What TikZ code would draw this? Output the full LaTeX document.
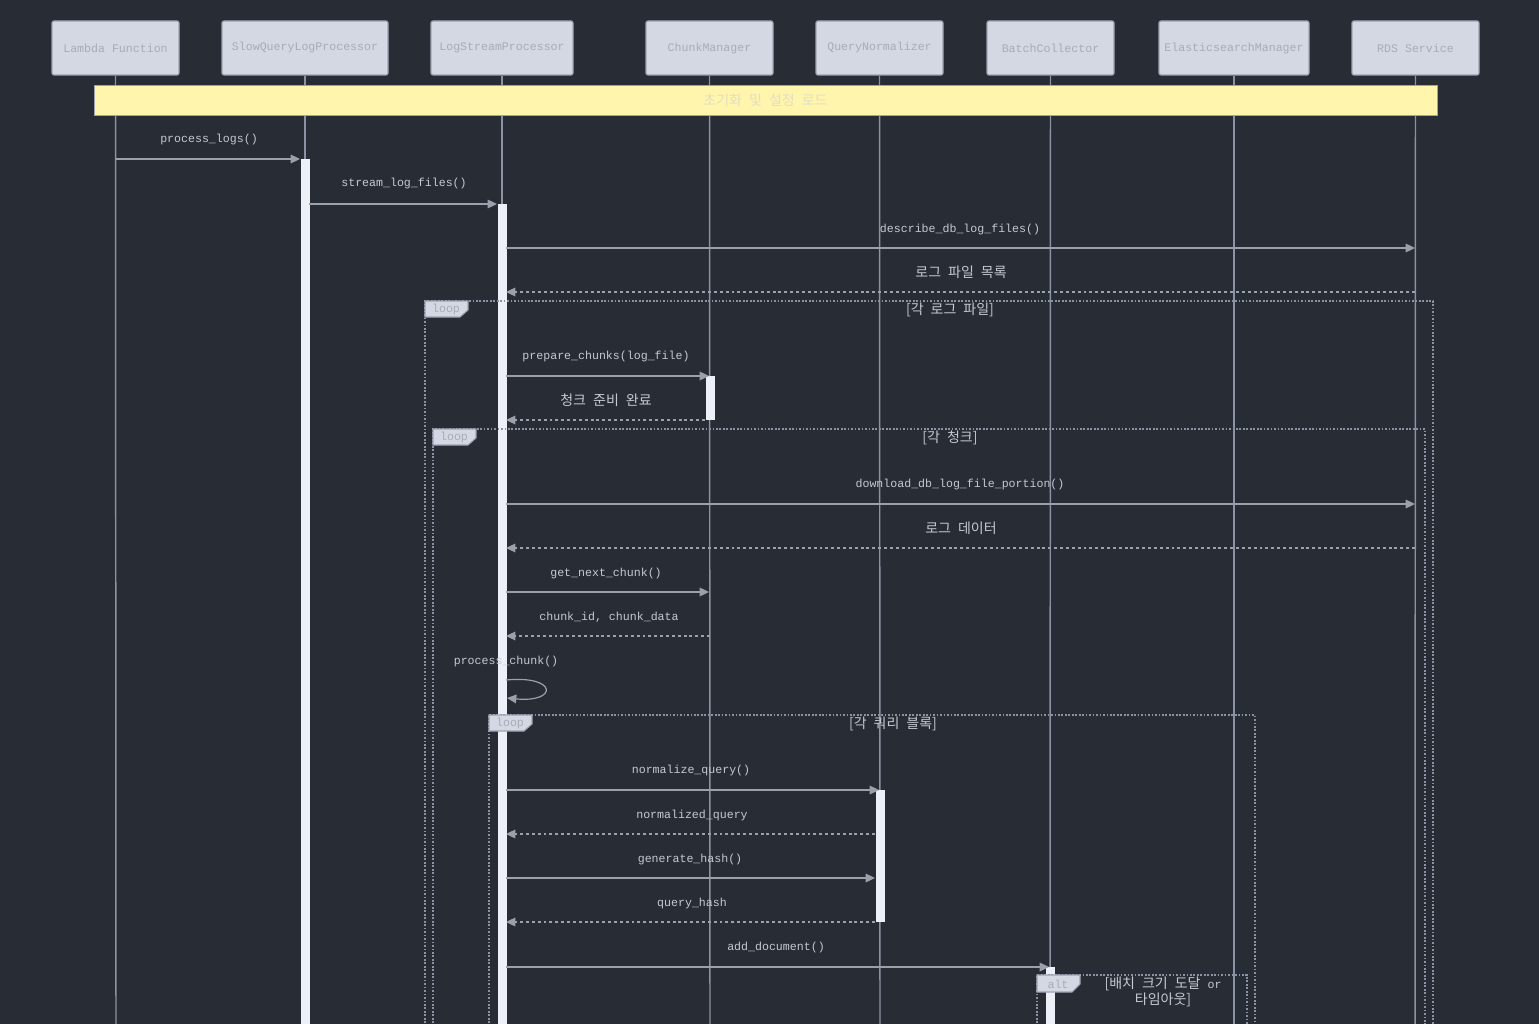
\documentclass[tikz,border=0pt]{standalone}
\usepackage{fontspec}
\setmonofont{Liberation Mono}
\newfontfamily\kr{Noto Sans CJK KR}
\usetikzlibrary{arrows.meta}

\definecolor{bg}{HTML}{282C35}
\definecolor{actorfill}{HTML}{D3D8E3}
\definecolor{actorline}{HTML}{9DA3B3}
\definecolor{actortext}{HTML}{A6ACB8}
\definecolor{life}{HTML}{8B92A3}
\definecolor{barfill}{HTML}{EEF0F8}
\definecolor{msgtext}{HTML}{C5C9D1}
\definecolor{msgline}{HTML}{9AA0AC}
\definecolor{notefill}{HTML}{FFF5AD}
\definecolor{notetext}{HTML}{E2DDC2}

\def\u{0.75pt}
\newcommand{\lat}{\ttfamily\fontsize{8.7}{10}\selectfont}
\newcommand{\han}{\kr\fontsize{10.5}{11}\selectfont\spaceskip=0.5em\relax}
\newcommand{\hantwo}{\kr\fontsize{10.5}{9}\selectfont\spaceskip=0.5em\relax}

\tikzset{
  actor/.style={draw=actorline, fill=actorfill, rounded corners=1.5pt, line width=0.9pt,
    minimum height={54*\u}, inner sep=0pt, text=actortext, font=\lat},
  lifeline/.style={draw=life, line width=1.1pt},
  bar/.style={draw=none, fill=barfill},
  msg/.style={draw=msgline, line width=0.9pt, -{Triangle[length=7pt,width=6.5pt]}},
  reply/.style={msg, dash pattern=on 2.2pt off 2.2pt},
  lbl/.style={text=msgtext, font=\lat, inner sep=0pt},
  klbl/.style={text=msgtext, font=\han, inner sep=0pt},
  frame/.style={draw=life, line width=0.9pt, dash pattern=on 1.3pt off 1.3pt},
  tab/.style={draw=actorline, fill=actorfill, line width=0.8pt},
  tabtext/.style={text=actortext, font=\lat, inner sep=0pt},
}

\begin{document}
\begin{tikzpicture}[x=0.75pt, y=-0.75pt]
\fill[bg] (0,0) rectangle (1539,1024);
\useasboundingbox (0,0) rectangle (1539,1024);
\clip (0,0) rectangle (1539,1024);

% participants
\node[actor, minimum width={127*\u}] (lam) at (115.5,48) {Lambda Function};
\node[actor, minimum width={166*\u}] (sq)  at (305,48)   {SlowQueryLogProcessor};
\node[actor, minimum width={142*\u}] (lsp) at (502,48)   {LogStreamProcessor};
\node[actor, minimum width={127*\u}] (cm)  at (709.5,48) {ChunkManager};
\node[actor, minimum width={127*\u}] (qn)  at (879.5,48) {QueryNormalizer};
\node[actor, minimum width={127*\u}] (bc)  at (1050.5,48) {BatchCollector};
\node[actor, minimum width={150*\u}] (es)  at (1234,48)  {ElasticsearchManager};
\node[actor, minimum width={127*\u}] (rds) at (1415.5,48) {RDS Service};

% lifelines
\foreach \a/\x in {lam/116, sq/305, lsp/502, cm/710, qn/880, bc/1050, es/1234, rds/1415}{
  \coordinate (\a end) at (\x,1030);
  \draw[lifeline] (\a.south) -- (\a end);
}

% setup note
\node[draw=actorline, line width=0.6pt, fill=notefill, minimum width={1343*\u}, minimum height={30*\u},
      inner sep=0pt, text=notetext, font=\han] (note) at (765.5,100) {초기화 및 설정 로드};

% activation bars
\node[bar, minimum width={9*\u}, minimum height={880*\u}, inner sep=0pt, anchor=north] (sqbar)  at (305,159) {};
\node[bar, minimum width={9*\u}, minimum height={830*\u}, inner sep=0pt, anchor=north] (lspbar) at (502,204) {};
\node[bar, minimum width={9*\u}, minimum height={44*\u},  inner sep=0pt, anchor=north] (cmbar)  at (710,376) {};
\node[bar, minimum width={9*\u}, minimum height={132*\u}, inner sep=0pt, anchor=north] (qnbar)  at (880,790) {};
\node[bar, minimum width={9*\u}, minimum height={70*\u},  inner sep=0pt, anchor=north] (bcbar)  at (1050,967) {};

% frames
\draw[frame] (425,1030) |- (1433,301) -- (1433,1030);
\draw[frame] (433,1030) |- (1425,429) -- (1425,1030);
\draw[frame] (489,1030) |- (1255,715) -- (1255,1030);
\draw[frame] (1037,1030) |- (1247,975) -- (1247,1030);

\draw[tab] (425,301) -- (468,301) -- (468,310) -- (460,317) -- (425,317) -- cycle;
\node[tabtext] (t1) at (446,309.5) {loop};
\node[klbl] (c1) at (950,310) {[각 로그 파일]};

\draw[tab] (433,429) -- (476,429) -- (476,438) -- (468,445) -- (433,445) -- cycle;
\node[tabtext] (t2) at (454,437.5) {loop};
\node[klbl] (c2) at (950,438) {[각 청크]};

\draw[tab] (489,715) -- (532,715) -- (532,724) -- (524,731) -- (489,731) -- cycle;
\node[tabtext] (t3) at (510,723.5) {loop};
\node[klbl] (c3) at (893,724) {[각 쿼리 블록]};

\draw[tab] (1037,975) -- (1080,975) -- (1080,984) -- (1072,992) -- (1037,992) -- cycle;
\node[tabtext] (t4) at (1058,984) {alt};
\node[klbl, align=center, font=\hantwo] (c4) at (1163,992) {[배치 크기 도달 {\lat or}\\타임아웃]};

% message endpoints
\coordinate (m1a) at (116,159);  \coordinate (m1b) at (300,159);
\coordinate (m2a) at (309,204);  \coordinate (m2b) at (497,204);
\coordinate (m3a) at (506,248);  \coordinate (m3b) at (1415,248);
\coordinate (m4a) at (1415,292); \coordinate (m4b) at (506,292);
\coordinate (m5a) at (506,376);  \coordinate (m5b) at (709,376);
\coordinate (m6a) at (705,420);  \coordinate (m6b) at (506,420);
\coordinate (m7a) at (506,504);  \coordinate (m7b) at (1415,504);
\coordinate (m8a) at (1415,548); \coordinate (m8b) at (506,548);
\coordinate (m9a) at (506,592);  \coordinate (m9b) at (709,592);
\coordinate (m10a) at (710,636); \coordinate (m10b) at (506,636);
\coordinate (m11a) at (506,680); \coordinate (m11b) at (507,698);
\coordinate (m12a) at (506,790); \coordinate (m12b) at (879,790);
\coordinate (m13a) at (875,834); \coordinate (m13b) at (506,834);
\coordinate (m14a) at (506,878); \coordinate (m14b) at (875,878);
\coordinate (m15a) at (875,922); \coordinate (m15b) at (506,922);
\coordinate (m16a) at (506,967); \coordinate (m16b) at (1049,967);

% messages
\draw[msg] (m1a) -- (m1b);   \node[lbl] (l1) at (209,140) {process\_logs()};
\draw[msg] (m2a) -- (m2b);   \node[lbl] (l2) at (404,184) {stream\_log\_files()};
\draw[msg] (m3a) -- (m3b);   \node[lbl] (l3) at (960,229) {describe\_db\_log\_files()};
\draw[reply] (m4a) -- (m4b); \node[klbl] (l4) at (961,272) {로그 파일 목록};
\draw[msg] (m5a) -- (m5b);   \node[lbl] (l5) at (606,356) {prepare\_chunks(log\_file)};
\draw[reply] (m6a) -- (m6b); \node[klbl] (l6) at (606,400) {청크 준비 완료};
\draw[msg] (m7a) -- (m7b);   \node[lbl] (l7) at (960,484) {download\_db\_log\_file\_portion()};
\draw[reply] (m8a) -- (m8b); \node[klbl] (l8) at (961,528) {로그 데이터};
\draw[msg] (m9a) -- (m9b);   \node[lbl] (l9) at (606,573) {get\_next\_chunk()};
\draw[reply] (m10a) -- (m10b); \node[lbl] (l10) at (609,617) {chunk\_id, chunk\_data};
\draw[msg] (m11a) .. controls (558,675) and (558,703) .. (m11b);
\node[lbl] (l11) at (506,661) {process\_chunk()};
\draw[msg] (m12a) -- (m12b);   \node[lbl] (l12) at (691,770) {normalize\_query()};
\draw[reply] (m13a) -- (m13b); \node[lbl] (l13) at (692,815) {normalized\_query};
\draw[msg] (m14a) -- (m14b);   \node[lbl] (l14) at (690,859) {generate\_hash()};
\draw[reply] (m15a) -- (m15b); \node[lbl] (l15) at (692,903) {query\_hash};
\draw[msg] (m16a) -- (m16b);   \node[lbl] (l16) at (776,947) {add\_document()};
\end{tikzpicture}
\end{document}
